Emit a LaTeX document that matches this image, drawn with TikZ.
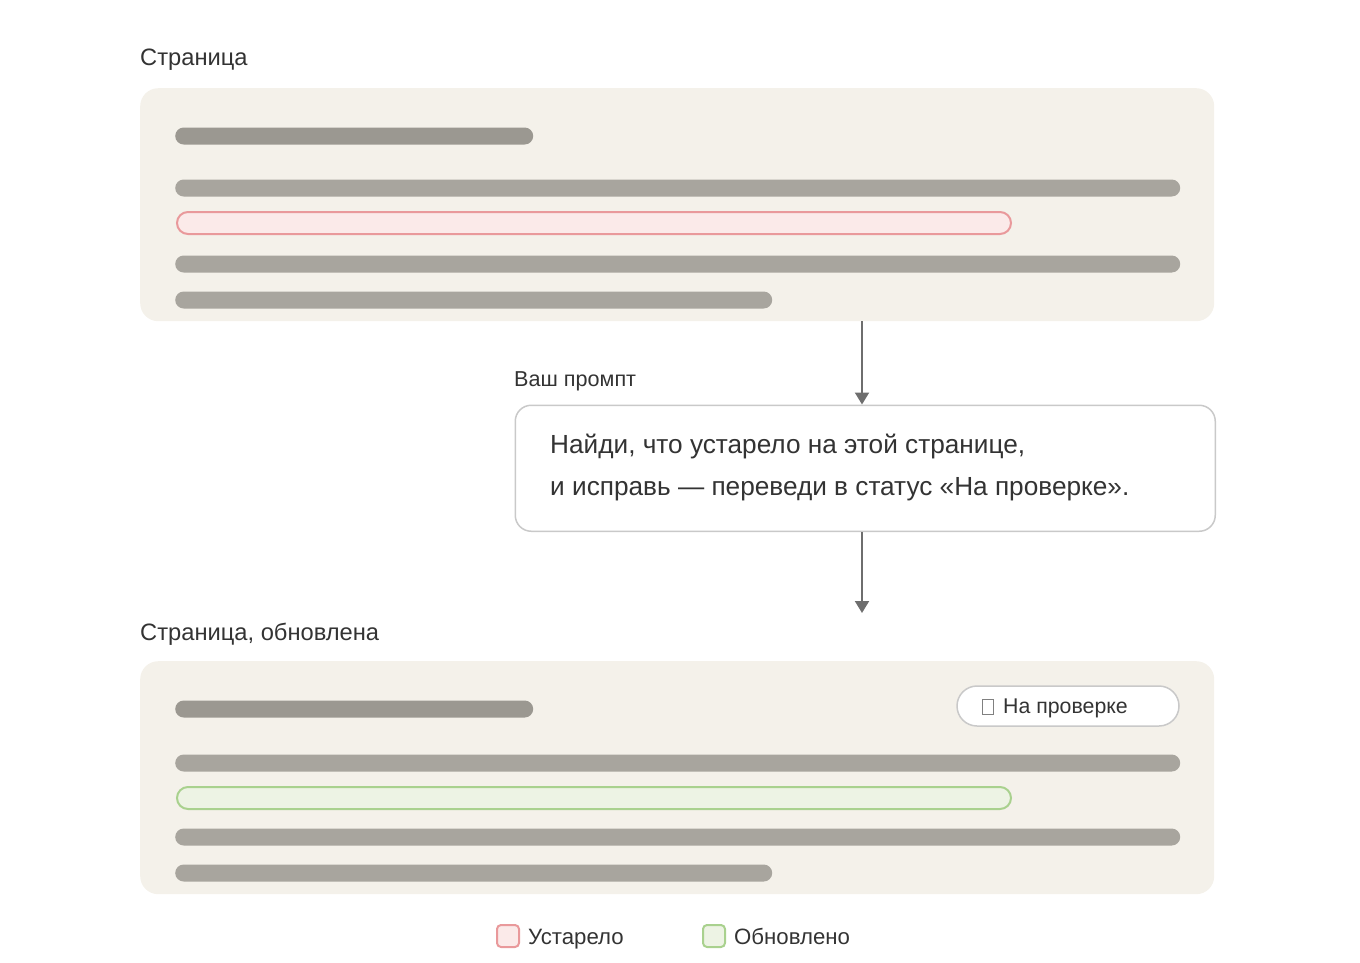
\documentclass[tikz,border=0pt]{standalone}
\usepackage{fontspec}
\setmainfont{Liberation Sans}
\usetikzlibrary{positioning,arrows.meta}
\definecolor{panelbg}{HTML}{F4F1EA}
\definecolor{headbar}{HTML}{9B9891}
\definecolor{linebar}{HTML}{A8A59E}
\definecolor{stalefill}{HTML}{FBEAE9}
\definecolor{staledraw}{HTML}{E9999B}
\definecolor{freshfill}{HTML}{EDF3E4}
\definecolor{freshdraw}{HTML}{A9D18E}
\definecolor{textgray}{HTML}{333333}
\definecolor{boxline}{HTML}{C9C9C9}
\definecolor{arrowgray}{HTML}{6E6E6E}

\begin{document}
\begin{tikzpicture}[
    x=1pt, y=-1pt,
    panel/.style={fill=panelbg, rounded corners=18pt, minimum width=1074pt, minimum height=233pt, inner sep=0pt, anchor=north west},
    headline/.style={fill=headbar, rounded corners=8.5pt, minimum width=358pt, minimum height=17pt, inner sep=0pt, anchor=west},
    textline/.style={fill=linebar, rounded corners=8.5pt, minimum height=17pt, inner sep=0pt, anchor=west},
    stale/.style={fill=stalefill, draw=staledraw, line width=2pt, rounded corners=11pt, minimum width=834pt, minimum height=22pt, inner sep=0pt, anchor=west},
    fresh/.style={fill=freshfill, draw=freshdraw, line width=2pt, rounded corners=11pt, minimum width=834pt, minimum height=22pt, inner sep=0pt, anchor=west},
    title/.style={text=textgray, font=\fontsize{23.7}{28}\selectfont, anchor=base west, inner sep=0pt},
    prompt/.style={fill=white, draw=boxline, line width=1.5pt, rounded corners=16pt, minimum width=700pt, minimum height=126pt, inner sep=0pt, anchor=north west},
    ptext/.style={text=textgray, font=\fontsize{26.2}{32}\selectfont, anchor=base west, inner sep=0pt},
    pill/.style={fill=white, draw=boxline, line width=1.5pt, rounded corners=20pt, minimum width=222pt, minimum height=40pt, inner sep=0pt},
    legendbox/.style={line width=2pt, rounded corners=4pt, minimum size=22pt, inner sep=0pt},
    legendtext/.style={text=textgray, font=\fontsize{22.2}{26}\selectfont, anchor=base west, inner sep=0pt},
    arrow/.style={-{Triangle[width=14pt,length=12pt]}, line width=2pt, draw=arrowgray}
]
\useasboundingbox (0,0) rectangle (1360,962);

% Page before
\node[title] (title1) at (140,65) {Страница};
\node[panel] (panel1) at (140,88) {};
\node[headline] (h1) at (175,136) {};
\node[textline, minimum width=1005pt] (l1) at (175,188) {};
\node[stale] (s1) at (176,223) {};
\node[textline, minimum width=1005pt] (l2) at (175,264) {};
\node[textline, minimum width=597pt] (l3) at (175,300) {};

% Prompt
\node[title, font=\fontsize{21.6}{26}\selectfont] (plabel) at (514,386) {Ваш промпт};
\node[prompt] (prompt) at (514.5,404.5) {};
\node[ptext] (ptext1) at (550,453) {Найди, что устарело на этой странице,};
\node[ptext] (ptext2) at (550,495) {и исправь — переведи в статус «На проверке».};

% Arrows
\coordinate (ax) at (862,0);
\coordinate (down) at (862,613);
\draw[arrow] (panel1.south -| ax) -- (prompt.north -| ax);
\draw[arrow] (prompt.south -| ax) -- (down);

% Page after
\node[title] (title2) at (140,640) {Страница, обновлена};
\node[panel] (panel2) at (140,661) {};
\node[headline] (h2) at (175,709) {};
\node[pill] (pill) at (1068,706) {};
\node[title, font=\fontsize{21.3}{25}\selectfont] (status) at (982,713)
    {{\color{gray}\setlength{\fboxrule}{1pt}\setlength{\fboxsep}{0pt}\raisebox{-1pt}{\fbox{\rule{0pt}{14pt}\hspace{10pt}}}}\hspace{9pt}На проверке};
\node[textline, minimum width=1005pt] (l4) at (175,763) {};
\node[fresh] (f1) at (176,798) {};
\node[textline, minimum width=1005pt] (l5) at (175,837) {};
\node[textline, minimum width=597pt] (l6) at (175,873) {};

% Legend
\node[legendbox, fill=stalefill, draw=staledraw] (kstale) at (508,936) {};
\node[legendtext] (tstale) at (528,944) {Устарело};
\node[legendbox, fill=freshfill, draw=freshdraw] (kfresh) at (714,936) {};
\node[legendtext] (tfresh) at (734,944) {Обновлено};
\end{tikzpicture}
\end{document}
